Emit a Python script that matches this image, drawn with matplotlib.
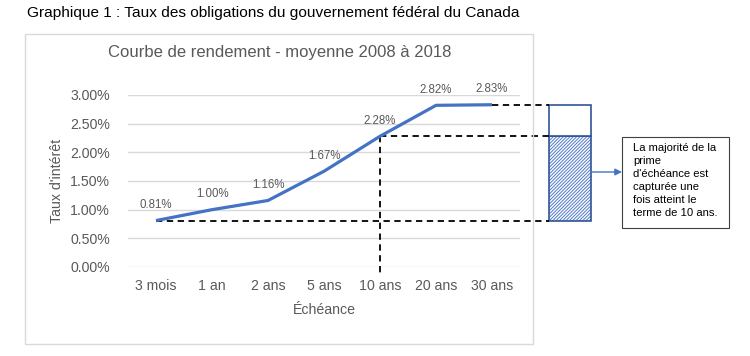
import matplotlib.pyplot as plt
from matplotlib.patches import Rectangle
from matplotlib.ticker import FuncFormatter

plt.rcParams['font.family'] = ['Liberation Sans', 'DejaVu Sans']
plt.rcParams['hatch.linewidth'] = 0.7

categories = ['3 mois', '1 an', '2 ans', '5 ans', '10 ans', '20 ans', '30 ans']
rates = [0.81, 1.00, 1.16, 1.67, 2.28, 2.82, 2.83]
y_ticks = [0.0, 0.5, 1.0, 1.5, 2.0, 2.5, 3.0]

W, H = 750, 356
grey = '#595959'
blue = '#4472C4'
dark_blue = '#2F5597'


def fx(px):
    return px / W


def fy(py):
    return 1 - py / H


fig = plt.figure(figsize=(7.5, 3.56), dpi=100)

# header above the chart frame
fig.text(fx(27), fy(13), 'Graphique 1 : Taux des obligations du gouvernement fédéral du Canada',
         fontsize=11.1, color='black', va='center', ha='left')

# chart frame
fig.patches.append(Rectangle((fx(25), fy(344)), fx(533) - fx(25), fy(34) - fy(344),
                             transform=fig.transFigure, facecolor='none',
                             edgecolor='#D9D9D9', lw=1))
fig.text(fx(280), fy(52), 'Courbe de rendement - moyenne 2008 à 2018',
         fontsize=12, color=grey, ha='center', va='center')

ax = fig.add_axes([fx(128), fy(267), fx(520) - fx(128), fy(95) - fy(267)])
x = list(range(len(categories)))
ax.plot(x, rates, color=blue, lw=2.3, solid_capstyle='butt', zorder=3)

for i, v in zip(x, rates):
    ax.annotate(f'{v:.2f}%', (i, v), xytext=(0, 11), textcoords='offset points',
                ha='center', va='center', fontsize=8.3, color=grey)

ax.set_xlim(-0.5, len(categories) - 0.5)
ax.set_ylim(0, 3.0)
ax.set_yticks(y_ticks)
ax.yaxis.set_major_formatter(FuncFormatter(lambda v, p: f'{v:.2f}%'))
ax.set_xticks(x)
ax.set_xticklabels(categories)
ax.tick_params(length=0, colors=grey, labelsize=10.2)
ax.tick_params(axis='x', pad=9)
ax.tick_params(axis='y', pad=13)
ax.grid(axis='y', color='#D9D9D9', lw=1)
ax.set_axisbelow(True)
for s in ax.spines.values():
    s.set_visible(False)
ax.set_ylabel("Taux d'intérêt", color=grey, fontsize=10.2, labelpad=4)
ax.set_xlabel('Échéance', color=grey, fontsize=10.2, labelpad=7)

# dashed guide lines
dash = dict(color='black', lw=1.3, ls=(0, (3.5, 2.5)), clip_on=False, zorder=2)
bar_x = 7.4
bar_w = 0.75
ax.plot([x[0], bar_x - bar_w / 2], [rates[0], rates[0]], **dash)
ax.plot([x[4], bar_x - bar_w / 2], [rates[4], rates[4]], **dash)
ax.plot([x[6], bar_x - bar_w / 2], [rates[6], rates[6]], **dash)
ax.plot([x[4], x[4]], [rates[4], -0.1], **dash)

# stacked bar showing the term premium
ax.bar(bar_x, rates[4] - rates[0], bottom=rates[0], width=bar_w, facecolor='white',
       edgecolor='#4F78C8', hatch='//////////', lw=0, clip_on=False)
ax.bar(bar_x, rates[4] - rates[0], bottom=rates[0], width=bar_w, facecolor='none',
       edgecolor=dark_blue, lw=1.2, clip_on=False)
ax.bar(bar_x, rates[6] - rates[4], bottom=rates[4], width=bar_w, facecolor='white',
       edgecolor=dark_blue, lw=1.2, clip_on=False)

# arrow and note box
ax.annotate('', xy=(fx(622), fy(172)), xycoords='figure fraction',
            xytext=(fx(591), fy(172)), textcoords='figure fraction',
            arrowprops=dict(arrowstyle='-|>', color=blue, lw=1, mutation_scale=10,
                            shrinkA=0, shrinkB=0))
fig.patches.append(Rectangle((fx(622), fy(228)), fx(729) - fx(622), fy(137) - fy(228),
                             transform=fig.transFigure, facecolor='white',
                             edgecolor='#404040', lw=0.8))
fig.text(fx(633), fy(143), "La majorité de la\nprime\nd'échéance est\ncapturée une\n"
         "fois atteint le\nterme de 10 ans.", fontsize=8.1, color='black',
         ha='left', va='top', linespacing=1.37)

fig.savefig('out.png', dpi=100)
